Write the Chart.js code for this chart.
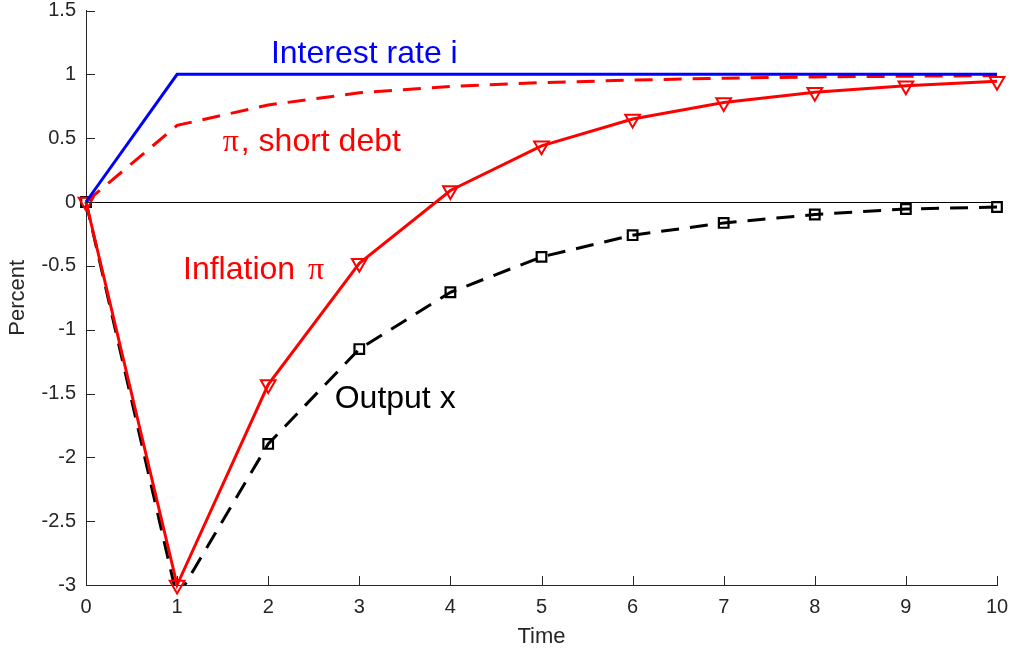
<!DOCTYPE html>
<html>
<head>
<meta charset="utf-8">
<title>Impulse responses</title>
<script src="https://cdn.jsdelivr.net/npm/chart.js@4.4.1/dist/chart.umd.min.js"></script>
<style>
  html, body { margin: 0; padding: 0; background: #ffffff; }
  canvas { display: block; }
</style>
</head>
<body>
<canvas id="irf" width="1009" height="652"></canvas>
<script>
// Responses over time (percent)
const periods = [0, 1, 2, 3, 4, 5, 6, 7, 8, 9, 10];
const interestRate = [0, 1, 1, 1, 1, 1, 1, 1, 1, 1, 1];
const inflationShortDebt = [0, 0.60, 0.76, 0.855, 0.905, 0.935, 0.955, 0.97, 0.98, 0.985, 0.99];
const inflation = [0, -3, -1.43, -0.48, 0.09, 0.44, 0.65, 0.78, 0.86, 0.91, 0.945];
const output = [0, -3.1, -1.895, -1.152, -0.707, -0.43, -0.26, -0.164, -0.098, -0.055, -0.039];

// Axis ranges and tick steps
const xRange = [0, 10];
const yRange = [-3, 1.5];
const xStep = 1;
const yStep = 0.5;

// Axis titles
const xTitle = 'Time';
const yTitle = 'Percent';

// In-plot labels, anchored in data coordinates; parts flagged true use the serif face
const notes = [
  { x: 2.03, y: 1.09, color: '#0000ff', parts: [['Interest rate i', false]] },
  { x: 1.50, y: 0.40, color: '#ff0000', parts: [['\u03c0', true], [', short debt', false]] },
  { x: 1.065, y: -0.60, color: '#ff0000', parts: [['Inflation ', false], ['\u03c0', true]] },
  { x: 2.73, y: -1.61, color: '#000000', parts: [['Output x', false]] }
];

const SANS = "'Liberation Sans', Arial, Helvetica, sans-serif";
const SERIF = "'Liberation Serif', 'Times New Roman', serif";
const AXIS_COLOR = '#262626';

const toPoints = (ys) => periods.map((t, i) => ({ x: t, y: ys[i] }));

// Tick marks pointing into the plot area
const innerTicks = {
  id: 'innerTicks',
  afterDraw(chart) {
    const { ctx, chartArea, scales } = chart;
    const len = 9;
    ctx.save();
    ctx.strokeStyle = AXIS_COLOR;
    ctx.lineWidth = 1;
    ctx.beginPath();
    scales.y.ticks.forEach(t => {
      const py = Math.round(scales.y.getPixelForValue(t.value)) + 0.5;
      ctx.moveTo(chartArea.left, py);
      ctx.lineTo(chartArea.left + len, py);
    });
    scales.x.ticks.forEach(t => {
      const px = Math.round(scales.x.getPixelForValue(t.value)) + 0.5;
      ctx.moveTo(px, chartArea.bottom);
      ctx.lineTo(px, chartArea.bottom - len);
    });
    ctx.stroke();
    ctx.restore();
  }
};

// Series labels written inside the plot
const seriesNotes = {
  id: 'seriesNotes',
  afterDatasetsDraw(chart) {
    const { ctx, scales } = chart;
    ctx.save();
    ctx.textBaseline = 'alphabetic';
    ctx.textAlign = 'left';
    notes.forEach(n => {
      let px = scales.x.getPixelForValue(n.x);
      const py = scales.y.getPixelForValue(n.y);
      ctx.fillStyle = n.color;
      n.parts.forEach(([txt, serif], i) => {
        ctx.font = serif ? '32px ' + SERIF : '32px ' + SANS;
        if (serif && i > 0) px += 4;
        ctx.fillText(txt, px, py);
        px += ctx.measureText(txt).width + (serif ? 2 : 0);
      });
    });
    ctx.restore();
  }
};

Chart.defaults.font.family = SANS;

new Chart(document.getElementById('irf'), {
  type: 'line',
  data: {
    datasets: [
      {
        label: 'Interest rate i',
        data: toPoints(interestRate),
        borderColor: '#0000ff',
        borderWidth: 3,
        pointRadius: 0,
        tension: 0,
        clip: false
      },
      {
        label: '\u03c0, short debt',
        data: toPoints(inflationShortDebt),
        borderColor: '#ff0000',
        borderWidth: 3,
        borderDash: [18, 11],
        pointRadius: 0,
        tension: 0,
        clip: false
      },
      {
        label: 'Inflation \u03c0',
        data: toPoints(inflation),
        borderColor: '#ff0000',
        borderWidth: 3,
        pointStyle: 'triangle',
        pointRotation: 180,
        pointRadius: 8.5,
        pointBorderWidth: 2,
        pointBorderColor: '#ff0000',
        pointBackgroundColor: 'rgba(0,0,0,0)',
        tension: 0,
        clip: false
      },
      {
        label: 'Output x',
        data: toPoints(output),
        borderColor: '#000000',
        borderWidth: 3,
        borderDash: [18, 11],
        pointStyle: 'rect',
        pointRadius: 6.8,
        pointBorderWidth: 2.2,
        pointBorderColor: '#000000',
        pointBackgroundColor: 'rgba(0,0,0,0)',
        tension: 0,
        clip: { left: 20, top: 20, right: 20, bottom: 0 }
      }
    ]
  },
  options: {
    responsive: false,
    animation: false,
    events: [],
    layout: { padding: { top: 9, right: 12, bottom: 0, left: 0 } },
    plugins: {
      legend: { display: false },
      tooltip: { enabled: false }
    },
    scales: {
      x: {
        type: 'linear',
        min: xRange[0],
        max: xRange[1],
        ticks: {
          stepSize: xStep,
          padding: 10,
          color: AXIS_COLOR,
          font: { size: 20 },
          maxRotation: 0,
          callback: v => String(v)
        },
        grid: { drawTicks: false, color: 'rgba(0,0,0,0)' },
        border: { display: true, color: AXIS_COLOR, width: 1 },
        title: {
          display: true,
          text: xTitle,
          color: AXIS_COLOR,
          font: { size: 22 },
          padding: { top: 0, bottom: 2 }
        },
        afterFit(s) {
          s.height = 67;
          s.paddingLeft = 0;
          s.paddingRight = 0;
        }
      },
      y: {
        type: 'linear',
        min: yRange[0],
        max: yRange[1],
        ticks: {
          stepSize: yStep,
          padding: 10,
          color: AXIS_COLOR,
          font: { size: 20 },
          callback: v => String(Math.round(v * 10) / 10)
        },
        grid: {
          drawTicks: false,
          lineWidth: 1,
          color: c => (c.tick && c.tick.value === 0) ? '#000000' : 'rgba(0,0,0,0)'
        },
        border: { display: true, color: AXIS_COLOR, width: 1 },
        title: {
          display: true,
          text: yTitle,
          color: AXIS_COLOR,
          font: { size: 22 },
          padding: { top: 5, bottom: 0 }
        },
        afterFit(s) {
          s.width = 86;
          s.paddingTop = 0;
          s.paddingBottom = 0;
        }
      }
    }
  },
  plugins: [innerTicks, seriesNotes]
});
</script>
</body>
</html>
